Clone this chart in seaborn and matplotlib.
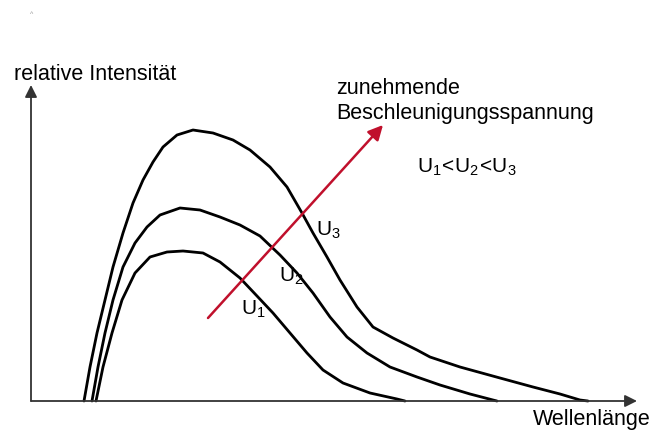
import numpy as np
import pandas as pd
import matplotlib
matplotlib.use("Agg")
import matplotlib.pyplot as plt
import seaborn as sns

sns.set_theme(style="white")
plt.rcParams["font.family"] = ["Liberation Sans", "DejaVu Sans"]
plt.rcParams["mathtext.fontset"] = "custom"
plt.rcParams["mathtext.rm"] = "Liberation Sans"
plt.rcParams["text.color"] = "black"

# curve points (x = wavelength, y = intensity, arbitrary units)
u1_x = [65, 72, 81, 91, 104, 119, 136, 152, 172, 189, 209, 226, 242, 259, 276, 292, 312, 339, 366, 374]
u1_y = [0, 34, 68, 101, 128, 144, 149, 150, 148, 139, 123, 105, 88, 68, 48, 31, 18, 8, 2, 0]

u2_x = [61, 67, 74, 82, 92, 104, 116, 129, 149, 169, 189, 209, 229, 249, 266,
        282, 299, 316, 336, 359, 386, 409, 439, 462, 466]
u2_y = [0, 34, 68, 101, 134, 158, 174, 186, 193, 191, 184, 176, 165, 146, 128,
        108, 84, 64, 48, 34, 24, 16, 7, 1, 0]

u3_x = [53, 59, 66, 74, 82, 92, 102, 112, 122, 132, 146, 162, 182, 202, 219, 239,
        256, 271, 282, 296, 309, 326, 342, 362, 386, 399, 429, 469, 502, 529, 549, 557]
u3_y = [0, 34, 68, 101, 134, 168, 198, 221, 239, 254, 266, 271, 268, 261, 251, 234,
        214, 188, 168, 144, 121, 94, 74, 63, 51, 44, 34, 23, 14, 7, 1, 0]

curves = {"U1": (u1_x, u1_y), "U2": (u2_x, u2_y), "U3": (u3_x, u3_y)}
df = pd.concat(
    [pd.DataFrame({"x": x, "y": y, "curve": k}) for k, (x, y) in curves.items()],
    ignore_index=True,
)

fig = plt.figure(figsize=(6.67, 4.30), dpi=100)
ax = fig.add_axes([0, 0, 1, 1])
sns.lineplot(data=df, x="x", y="y", units="curve", estimator=None, sort=False,
             color="black", lw=2, solid_joinstyle="round", ax=ax)
ax.set_xlim(-31, 636)
ax.set_ylim(-29, 401)
ax.set_axis_off()

# axes with arrow heads
arr = dict(arrowstyle="-|>", color="#333333", lw=1.3, mutation_scale=18,
           shrinkA=0, shrinkB=0)
ax.annotate("", xy=(606, 0), xytext=(0, 0), arrowprops=arr)
ax.annotate("", xy=(0, 316), xytext=(0, 0), arrowprops=arr)

# red arrow
ax.annotate("", xy=(352, 276), xytext=(177, 83),
            arrowprops=dict(arrowstyle="-|>", color="#c0102c", lw=1.8,
                            mutation_scale=22, shrinkA=0, shrinkB=0))

fs = 15.5
ax.text(-17, 327, "relative Intensität", fontsize=fs, ha="left", va="center")
ax.text(502, -18, "Wellenlänge", fontsize=fs, ha="left", va="center")
ax.text(305, 312, "zunehmende", fontsize=fs, ha="left", va="center")
ax.text(305, 287, "Beschleunigungsspannung", fontsize=fs, ha="left", va="center")
ax.text(386, 234, r"$\mathregular{U_1\!<\!U_2\!<\!U_3}$", fontsize=15, ha="left", va="center")
ax.text(285, 171, r"$\mathregular{U_3}$", fontsize=15, ha="left", va="center")
ax.text(248, 125, r"$\mathregular{U_2}$", fontsize=15, ha="left", va="center")
ax.text(210, 92, r"$\mathregular{U_1}$", fontsize=15, ha="left", va="center")
ax.text(1, 387, "^", fontsize=5, color="#999999", ha="center", va="center")

fig.savefig("out.png", dpi=100)
